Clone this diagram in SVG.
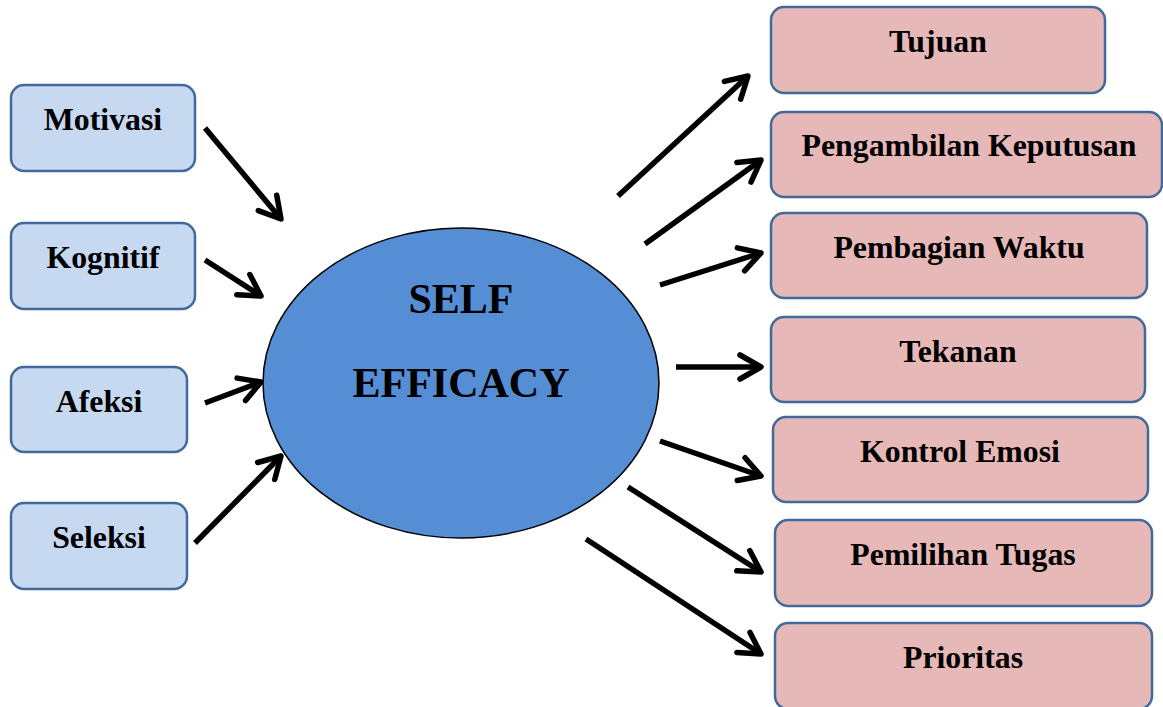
<svg xmlns="http://www.w3.org/2000/svg" width="1163" height="707" viewBox="0 0 1163 707">
<defs>
<style>
.lbox{fill:#C6D9F1;stroke:#41699A;stroke-width:2.5}
.rbox{fill:#E6B8B7;stroke:#41699A;stroke-width:2.5}
.lbl{font-family:"Liberation Serif","Times New Roman",serif;font-weight:bold;font-size:31.8px;fill:#000;text-anchor:middle}
.big{font-family:"Liberation Serif","Times New Roman",serif;font-weight:bold;font-size:42px;fill:#000;text-anchor:middle}
.arr{stroke:#000;stroke-width:5.5;fill:none;marker-end:url(#ah)}
</style>
<marker id="ah" markerUnits="userSpaceOnUse" markerWidth="40" markerHeight="40" viewBox="-30 -20 40 40" refX="0" refY="0" orient="auto" overflow="visible">
<path d="M-21,-12 L0,0 L-21,12" fill="none" stroke="#000" stroke-width="5.5" stroke-linecap="round" stroke-linejoin="round"/>
</marker>
</defs>
<rect width="1163" height="707" fill="#fff"/>
<g id="connectors">
<line class="arr" x1="205" y1="128" x2="281" y2="219"/>
<line class="arr" x1="205" y1="260" x2="261" y2="296"/>
<line class="arr" x1="205" y1="403" x2="261" y2="382"/>
<line class="arr" x1="195" y1="543" x2="281" y2="456"/>
<line class="arr" x1="618" y1="196" x2="748" y2="76"/>
<line class="arr" x1="645" y1="244" x2="761" y2="160"/>
<line class="arr" x1="660" y1="285" x2="761" y2="253"/>
<line class="arr" x1="676" y1="367" x2="761" y2="367"/>
<line class="arr" x1="660" y1="441" x2="761" y2="476"/>
<line class="arr" x1="628" y1="487" x2="761" y2="572"/>
<line class="arr" x1="586" y1="539" x2="761" y2="654"/>
</g>
<g id="self-efficacy">
<ellipse cx="461" cy="383" rx="198" ry="155" fill="#558ED5" stroke="#000" stroke-width="1.5"/>
<text class="big" x="461" y="313">SELF</text>
<text class="big" x="461" y="397">EFFICACY</text>
</g>
<g id="motivasi"><rect class="lbox" x="11" y="85" width="184" height="86" rx="13"/><text class="lbl" x="103" y="130">Motivasi</text></g>
<g id="kognitif"><rect class="lbox" x="11" y="223" width="184" height="86" rx="13"/><text class="lbl" x="103" y="268">Kognitif</text></g>
<g id="afeksi"><rect class="lbox" x="11" y="367" width="176" height="85" rx="13"/><text class="lbl" x="99" y="412">Afeksi</text></g>
<g id="seleksi"><rect class="lbox" x="11" y="503" width="176" height="86" rx="13"/><text class="lbl" x="99" y="548">Seleksi</text></g>
<g id="tujuan"><rect class="rbox" x="771" y="7" width="334" height="86" rx="13"/><text class="lbl" x="938" y="52">Tujuan</text></g>
<g id="pengambilan-keputusan"><rect class="rbox" x="771" y="112" width="391" height="85" rx="13"/><text class="lbl" x="969" y="156">Pengambilan Keputusan</text></g>
<g id="pembagian-waktu"><rect class="rbox" x="771" y="213" width="376" height="85" rx="13"/><text class="lbl" x="959" y="258">Pembagian Waktu</text></g>
<g id="tekanan"><rect class="rbox" x="771" y="317" width="374" height="85" rx="13"/><text class="lbl" x="958" y="362">Tekanan</text></g>
<g id="kontrol-emosi"><rect class="rbox" x="773" y="417" width="375" height="85" rx="13"/><text class="lbl" x="960" y="462">Kontrol Emosi</text></g>
<g id="pemilihan-tugas"><rect class="rbox" x="775" y="520" width="377" height="86" rx="13"/><text class="lbl" x="963" y="565">Pemilihan Tugas</text></g>
<g id="prioritas"><rect class="rbox" x="775" y="623" width="377" height="86" rx="13"/><text class="lbl" x="963" y="668">Prioritas</text></g>
</svg>
